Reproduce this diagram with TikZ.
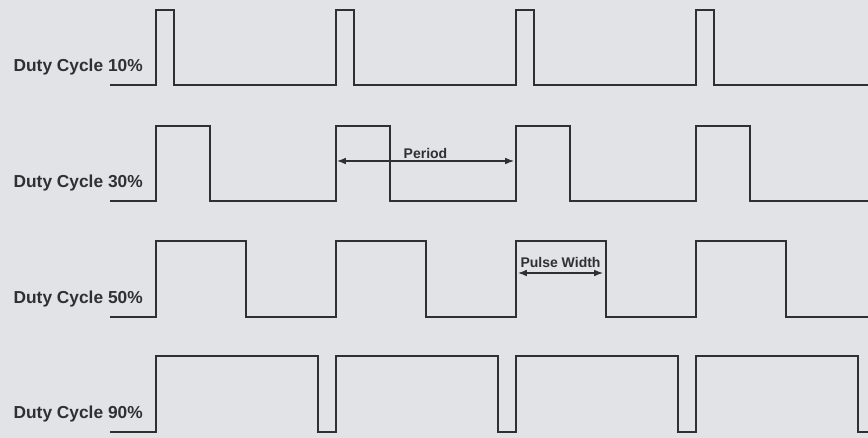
\documentclass[tikz,border=0pt]{standalone}
\usepackage{fontspec}
\setmainfont{Liberation Sans}
\usetikzlibrary{arrows.meta}
\definecolor{paper}{RGB}{226,227,231}
\definecolor{ink}{RGB}{48,48,50}

\begin{document}
\begin{tikzpicture}[x=0.75pt,y=-0.75pt,>=Latex,
  wave/.style={ink,line width=1.8pt,line join=miter},
  lbl/.style={anchor=east,font=\bfseries\fontsize{13}{15}\selectfont,text=ink,inner sep=0pt},
  dim/.style={<->,ink,line width=0.8pt},
  dimlbl/.style={font=\bfseries\fontsize{10.5}{12}\selectfont,text=ink,inner sep=1pt}]
  \fill[paper] (0,0) rectangle (868,438);
  \useasboundingbox (0,0) rectangle (868,438);
  % one row per duty cycle: low level, high level, pulse width, percent
  \foreach \lo/\hi/\w/\d in {85/10/18/10,201/126/54/30,317/241/90/50,432/356/162/90}{
    \node[lbl] (lab\d) at (143,\lo-18) {Duty Cycle \d\%};
    \draw[wave] (110,\lo)
      \foreach \k in {0,...,3}{
        -- ({156+180*\k},\lo) -- ({156+180*\k},\hi)
        -- ({156+180*\k+\w},\hi) -- ({156+180*\k+\w},\lo)
      } -- (868,\lo);
  }
  % period
  \coordinate (per1) at (337,161);
  \coordinate (per2) at (514,161);
  \draw[dim] (per1) -- (per2) node[midway,above,dimlbl] {Period};
  % pulse width
  \coordinate (pw1) at (518,273);
  \coordinate (pw2) at (603,273);
  \draw[dim] (pw1) -- (pw2) node[midway,above,dimlbl,yshift=2.5pt] {Pulse Width};
\end{tikzpicture}
\end{document}
